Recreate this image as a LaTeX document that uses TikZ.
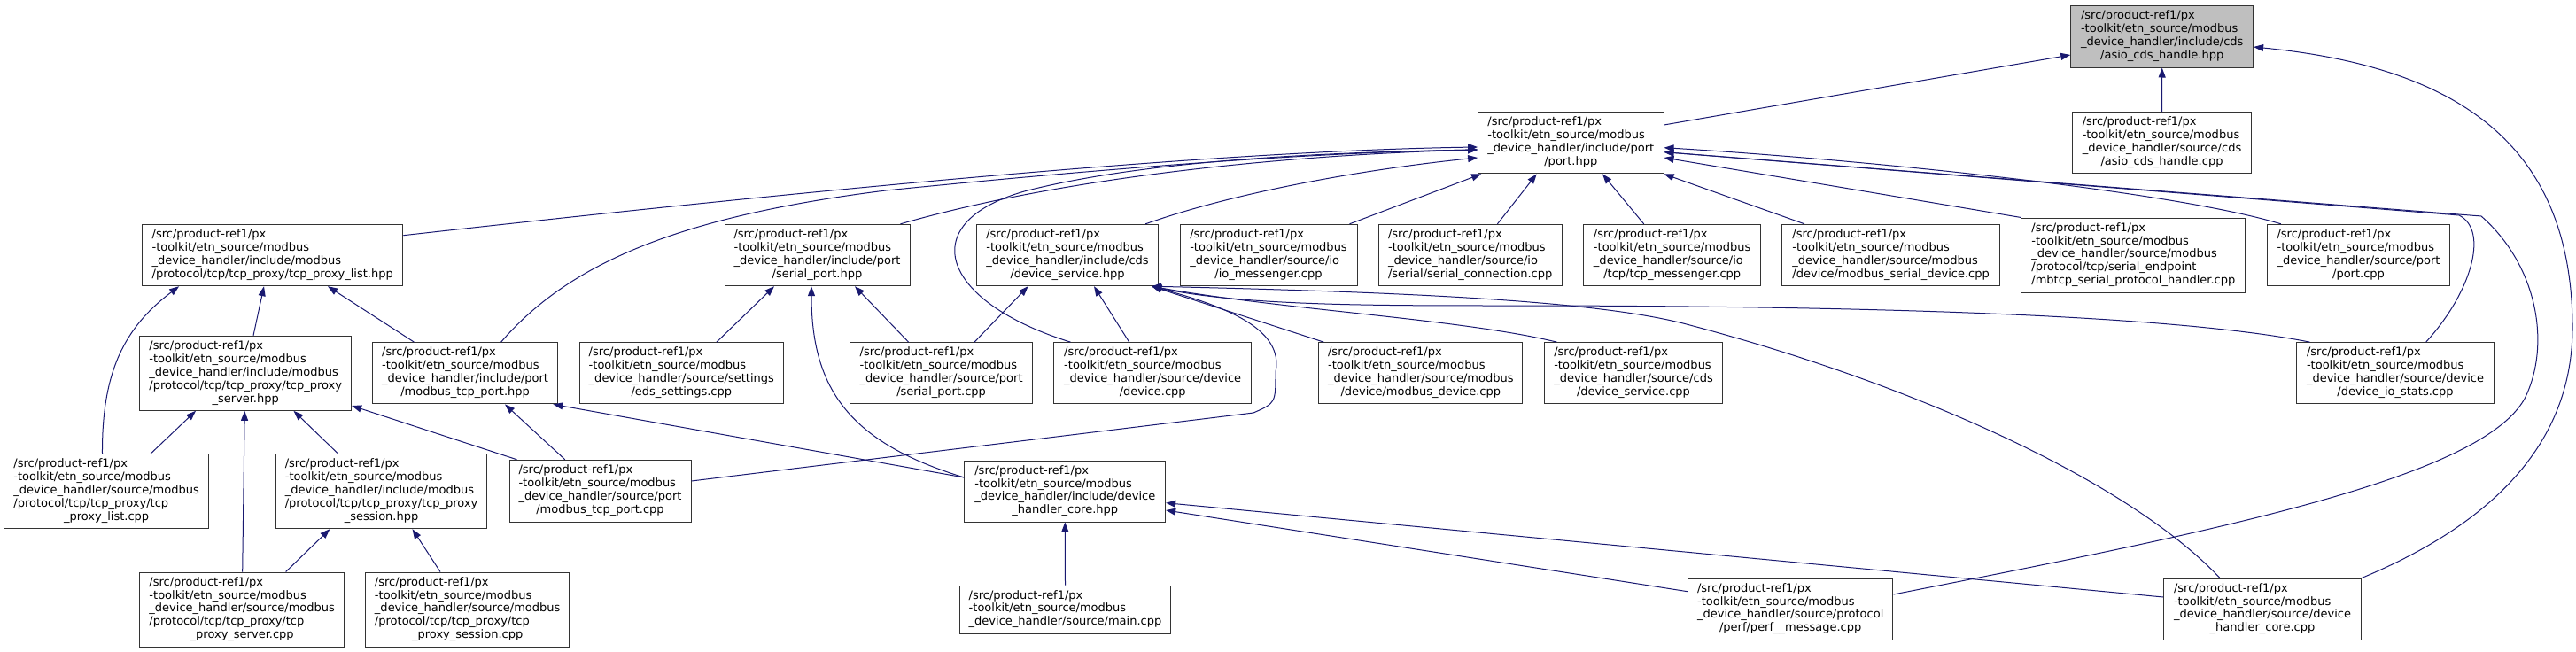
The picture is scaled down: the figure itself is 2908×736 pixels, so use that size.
\documentclass[tikz,border=0pt]{standalone}
\usepackage{fontspec}
\setmainfont{DejaVu Sans}
\usetikzlibrary{arrows.meta}
\definecolor{edgec}{HTML}{191970}
\definecolor{grayfill}{HTML}{BFBFBF}
\definecolor{boxline}{HTML}{333333}
\newcommand{\pfx}{/src/product-ref1/px\\-toolkit/etn\_source/modbus}
\newcommand{\lbl}[2]{\begin{tabular}{@{}l@{}}\pfx\\#1\\\multicolumn{1}{@{}c@{}}{#2}\end{tabular}}
\tikzset{
  filebox/.style={draw=boxline, line width=1pt, fill=white, inner sep=0pt,
    font=\fontsize{13}{14.9}\selectfont},
  dep/.style={draw=edgec, line width=1pt, -{Triangle[length=11pt,width=8pt]}},
}
\begin{document}
\begin{tikzpicture}[x=1pt,y=-1pt]
\useasboundingbox (0,0) rectangle (2908,736);
% row 0/1
\node[filebox, fill=grayfill, minimum width=205.8pt, minimum height=70pt] (asiohpp) at (2440.7,41) {\lbl{\_device\_handler/include/cds}{/asio\_cds\_handle.hpp}};
\node[filebox, minimum width=201.6pt, minimum height=69.3pt] (asiocpp) at (2440.5,161.3) {\lbl{\_device\_handler/source/cds}{/asio\_cds\_handle.cpp}};
\node[filebox, minimum width=209.4pt, minimum height=69.3pt] (porthpp) at (1773.3,161.3) {\lbl{\_device\_handler/include/port}{/port.hpp}};
% row 3
\node[filebox, minimum width=294.2pt, minimum height=69.4pt] (tplhpp) at (307.7,288) {\lbl{\_device\_handler/include/modbus}{/protocol/tcp/tcp\_proxy/tcp\_proxy\_list.hpp}};
\node[filebox, minimum width=209pt, minimum height=69.4pt] (sphpp) at (922.5,288) {\lbl{\_device\_handler/include/port}{/serial\_port.hpp}};
\node[filebox, minimum width=205.3pt, minimum height=69.4pt] (dshpp) at (1205,288) {\lbl{\_device\_handler/include/cds}{/device\_service.hpp}};
\node[filebox, minimum width=200pt, minimum height=69.4pt] (iomcpp) at (1432,288) {\lbl{\_device\_handler/source/io}{/io\_messenger.cpp}};
\node[filebox, minimum width=206.6pt, minimum height=69.4pt] (sccpp) at (1659.7,288) {\lbl{\_device\_handler/source/io}{/serial/serial\_connection.cpp}};
\node[filebox, minimum width=199.5pt, minimum height=69.4pt] (tmcpp) at (1887.7,288) {\lbl{\_device\_handler/source/io}{/tcp/tcp\_messenger.cpp}};
\node[filebox, minimum width=245.3pt, minimum height=69.4pt] (msdcpp) at (2134.6,288) {\lbl{\_device\_handler/source/modbus}{/device/modbus\_serial\_device.cpp}};
\node[filebox, minimum width=252.7pt, minimum height=84pt] (mbtcpcpp) at (2408.3,288) {\lbl{\_device\_handler/source/modbus\\/protocol/tcp/serial\_endpoint}{/mbtcp\_serial\_protocol\_handler.cpp}};
\node[filebox, minimum width=206.3pt, minimum height=69.4pt] (portcpp) at (2662.5,288) {\lbl{\_device\_handler/source/port}{/port.cpp}};
% row 4
\node[filebox, minimum width=238.8pt, minimum height=84pt] (tpshpp) at (277.2,421.3) {\lbl{\_device\_handler/include/modbus\\/protocol/tcp/tcp\_proxy/tcp\_proxy}{\_server.hpp}};
\node[filebox, minimum width=209.5pt, minimum height=69.3pt] (mtphpp) at (525.1,421.3) {\lbl{\_device\_handler/include/port}{/modbus\_tcp\_port.hpp}};
\node[filebox, minimum width=230.6pt, minimum height=69.3pt] (edscpp) at (769.3,421.3) {\lbl{\_device\_handler/source/settings}{/eds\_settings.cpp}};
\node[filebox, minimum width=205.3pt, minimum height=69.3pt] (spcpp) at (1062.6,421.3) {\lbl{\_device\_handler/source/port}{/serial\_port.cpp}};
\node[filebox, minimum width=222.5pt, minimum height=69.3pt] (devicecpp) at (1301.2,421.3) {\lbl{\_device\_handler/source/device}{/device.cpp}};
\node[filebox, minimum width=229.9pt, minimum height=69.3pt] (mdcpp) at (1603.8,421.3) {\lbl{\_device\_handler/source/modbus}{/device/modbus\_device.cpp}};
\node[filebox, minimum width=201pt, minimum height=69.3pt] (dscpp) at (1844,421.3) {\lbl{\_device\_handler/source/cds}{/device\_service.cpp}};
\node[filebox, minimum width=223pt, minimum height=69.3pt] (diocpp) at (2704,421.3) {\lbl{\_device\_handler/source/device}{/device\_io\_stats.cpp}};
% row 5
\node[filebox, minimum width=230.9pt, minimum height=84pt] (tplcpp) at (120.1,554.7) {\lbl{\_device\_handler/source/modbus\\/protocol/tcp/tcp\_proxy/tcp}{\_proxy\_list.cpp}};
\node[filebox, minimum width=238.3pt, minimum height=84pt] (tpsesshpp) at (430.6,554.7) {\lbl{\_device\_handler/include/modbus\\/protocol/tcp/tcp\_proxy/tcp\_proxy}{\_session.hpp}};
\node[filebox, minimum width=205pt, minimum height=70pt] (mtpcpp) at (677.5,554.3) {\lbl{\_device\_handler/source/port}{/modbus\_tcp\_port.cpp}};
\node[filebox, minimum width=226.7pt, minimum height=69pt] (dhchpp) at (1202.3,554.5) {\lbl{\_device\_handler/include/device}{\_handler\_core.hpp}};
% row 6
\node[filebox, minimum width=230.9pt, minimum height=84pt] (tpscpp) at (273.2,688) {\lbl{\_device\_handler/source/modbus\\/protocol/tcp/tcp\_proxy/tcp}{\_proxy\_server.cpp}};
\node[filebox, minimum width=230.5pt, minimum height=84pt] (tpsesscpp) at (527.7,688) {\lbl{\_device\_handler/source/modbus\\/protocol/tcp/tcp\_proxy/tcp}{\_proxy\_session.cpp}};
\node[filebox, minimum width=238.3pt, minimum height=54pt] (maincpp) at (1202.5,688) {\begin{tabular}{@{}l@{}}\pfx\\\_device\_handler/source/main.cpp\end{tabular}};
\node[filebox, minimum width=231.5pt, minimum height=69pt] (perfcpp) at (2021.2,687.5) {\lbl{\_device\_handler/source/protocol}{/perf/perf\_\_message.cpp}};
\node[filebox, minimum width=223pt, minimum height=69pt] (dhccpp) at (2554,687.5) {\lbl{\_device\_handler/source/device}{\_handler\_core.cpp}};

% edges (child -> parent)
\draw[dep] ([yshift=20.3pt]porthpp.east) -- ([yshift=-21pt]asiohpp.west);
\draw[dep] (asiocpp.north) -- (asiohpp.south);
\draw[dep] (dhccpp.north east) .. controls (2840,580) and (2904,480) .. (2904,370) .. controls (2904,160) and (2770,75) .. ([yshift=-12pt]asiohpp.east);

\draw[dep] ([yshift=22.3pt]tplhpp.east) .. controls (1000,205) and (1400,170) .. ([yshift=-4.7pt]porthpp.west);
\draw[dep] ([xshift=40.5pt]mtphpp.north) .. controls (640,300) and (760,245) .. (1000,215) .. controls (1300,185) and (1500,172) .. ([yshift=-7.7pt]porthpp.west);
\draw[dep] ([xshift=19pt]devicecpp.north west) .. controls (1060,340) and (1030,250) .. (1160,215) .. controls (1300,180) and (1500,172) .. ([yshift=-7.7pt]porthpp.west);
\draw[dep] ([xshift=-11pt]sphpp.north east) .. controls (1200,200) and (1450,175) .. ([yshift=-7.7pt]porthpp.west);
\draw[dep] ([xshift=-15pt]dshpp.north east) .. controls (1400,215) and (1550,190) .. ([yshift=-16.7pt]porthpp.west);
\draw[dep] ([xshift=-9pt]iomcpp.north east) -- ([xshift=4pt]porthpp.south west);
\draw[dep] ([xshift=30.7pt]sccpp.north) -- ([xshift=-38.6pt]porthpp.south);
\draw[dep] ([xshift=-32pt]tmcpp.north) -- ([xshift=35.7pt]porthpp.south);
\draw[dep] ([xshift=-97.6pt]msdcpp.north) -- (porthpp.south east);
\draw[dep] (mbtcpcpp.north west) -- ([yshift=-16.7pt]porthpp.east);
\draw[dep] ([xshift=16pt]portcpp.north west) .. controls (2450,215) and (2100,180) .. ([yshift=-5.4pt]porthpp.east);
\draw[dep] ([xshift=34.6pt]diocpp.north) .. controls (2790,330) and (2810,260) .. (2776,243) -- ([yshift=-10.4pt]porthpp.east);
\draw[dep] ([yshift=16.5pt]perfcpp.east) .. controls (2500,600) and (2800,540) .. (2850,450) .. controls (2880,390) and (2865,300) .. (2801,244) -- ([yshift=-10.4pt]porthpp.east);

\draw[dep] ([xshift=-4.6pt]tplcpp.north) .. controls (115,420) and (140,370) .. ([xshift=42pt]tplhpp.south west);
\draw[dep] ([xshift=8.8pt]tpshpp.north) -- ([xshift=-9.7pt]tplhpp.south);
\draw[dep] ([xshift=47.6pt]mtphpp.north west) -- ([xshift=62.3pt]tplhpp.south);

\draw[dep] ([xshift=49.9pt]tplcpp.north) -- ([xshift=-56.2pt]tpshpp.south);
\draw[dep] ([xshift=0.5pt]tpscpp.north) -- ([xshift=-1pt]tpshpp.south);
\draw[dep] ([xshift=-48.9pt]tpsesshpp.north) -- ([xshift=54.3pt]tpshpp.south);
\draw[dep] ([xshift=9pt]mtpcpp.north west) -- ([yshift=-36.7pt]tpshpp.east);

\draw[dep] ([xshift=-39.7pt]mtpcpp.north) -- ([xshift=44.9pt]mtphpp.south);
\draw[dep] ([yshift=15.5pt]dhchpp.west) -- ([xshift=-6pt]mtphpp.south east);

\draw[dep] ([xshift=49.4pt]tpscpp.north) -- ([xshift=-58.2pt]tpsesshpp.south);
\draw[dep] ([xshift=-30.7pt]tpsesscpp.north) -- ([xshift=34.9pt]tpsesshpp.south);

\draw[dep] ([xshift=39.7pt]edscpp.north) -- ([xshift=-48.5pt]sphpp.south);
\draw[dep] ([yshift=15.5pt]dhchpp.west) .. controls (960,500) and (916,440) .. ([xshift=-6.5pt]sphpp.south);
\draw[dep] ([xshift=-37pt]spcpp.north) -- ([xshift=42.5pt]sphpp.south);

\draw[dep] ([xshift=37.4pt]spcpp.north) -- ([xshift=-44.4pt]dshpp.south);
\draw[dep] ([xshift=-26.5pt]devicecpp.north) -- ([xshift=30pt]dshpp.south);
\draw[dep] ([xshift=6pt]mdcpp.north west) -- ([xshift=-8pt]dshpp.south east);
\draw[dep] ([xshift=14.5pt]dscpp.north west) .. controls (1650,360) and (1450,350) .. ([xshift=-8pt]dshpp.south east);
\draw[dep] ([xshift=15.5pt]diocpp.north west) .. controls (2450,355) and (2100,345) .. (1700,345) .. controls (1550,345) and (1400,345) .. ([xshift=-8pt]dshpp.south east);
\draw[dep] ([xshift=-48pt]dhccpp.north) .. controls (2400,540) and (2150,430) .. (1900,365) .. controls (1800,340) and (1600,330) .. ([xshift=-8pt]dshpp.south east);
\draw[dep] ([yshift=11.3pt]mtpcpp.east) -- (1415,466) .. controls (1440,455) .. (1440,420) .. controls (1450,370) and (1380,345) .. ([xshift=-8pt]dshpp.south east);

\draw[dep] (maincpp.north) -- (dhchpp.south);
\draw[dep] ([yshift=19.8pt]perfcpp.west) -- ([yshift=-21.5pt]dhchpp.east);
\draw[dep] ([yshift=13.5pt]dhccpp.west) -- ([yshift=-13.2pt]dhchpp.east);
\end{tikzpicture}
\end{document}
